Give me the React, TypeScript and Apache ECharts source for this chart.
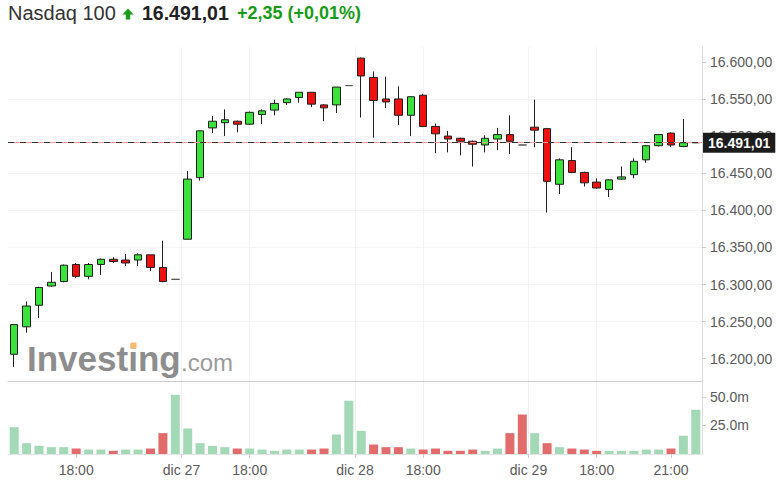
import React, { useEffect, useRef } from 'react';
import * as echarts from 'echarts';

// ---- data (30-minute candles, 26-29 dic) ----
const opens = [
  16206, 16243, 16272, 16298, 16304, 16327, 16311, 16327, 16334, 16333, 16333, 16340, 16323, 16307,
  16361, 16444, 16511, 16518, 16520, 16516, 16529, 16535, 16545, 16552, 16559, 16542, 16542, 16568,
  16605, 16579, 16550, 16550, 16528, 16555, 16513, 16500, 16497, 16493, 16488, 16496, 16502, 16488,
  16512, 16510, 16435, 16467, 16451, 16438, 16428, 16442, 16448, 16468, 16487, 16504, 16486, 16491,
];
const closes = [
  16246, 16271, 16296, 16303, 16326, 16311, 16327, 16334, 16331, 16329, 16340, 16323, 16304, 16307,
  16442, 16507, 16520, 16522, 16516, 16532, 16534, 16544, 16550, 16559, 16543, 16538, 16566, 16568,
  16581, 16548, 16546, 16528, 16553, 16513, 16503, 16496, 16493, 16489, 16497, 16502, 16493, 16488,
  16508, 16439, 16468, 16451, 16437, 16430, 16441, 16445, 16466, 16487, 16502, 16488, 16491, 16491,
];
const lows = [
  16189, 16235, 16255, 16297, 16303, 16309, 16307, 16313, 16329, 16325, 16325, 16318, 16303, 16307,
  16361, 16440, 16504, 16500, 16505, 16515, 16516, 16528, 16542, 16545, 16539, 16520, 16531, 16568,
  16525, 16498, 16538, 16515, 16500, 16512, 16477, 16478, 16474, 16459, 16478, 16481, 16476, 16488,
  16485, 16397, 16422, 16450, 16432, 16429, 16418, 16441, 16443, 16464, 16486, 16485, 16485, 16491,
];
const highs = [
  16246, 16277, 16297, 16317, 16327, 16329, 16329, 16335, 16337, 16341, 16342, 16340, 16359, 16307,
  16453, 16507, 16527, 16536, 16521, 16533, 16536, 16549, 16551, 16559, 16559, 16543, 16566, 16568,
  16606, 16587, 16580, 16567, 16554, 16557, 16517, 16507, 16498, 16494, 16501, 16511, 16528, 16488,
  16549, 16511, 16470, 16485, 16452, 16443, 16442, 16459, 16470, 16488, 16502, 16505, 16523, 16491,
];
// volume in millions
const volumes = [
  23.5, 9.5, 7.2, 6.0, 6.0, 4.8, 3.9, 3.9, 2.8, 3.9, 3.9, 4.8, 18.3, 51.9,
  22.4, 9.5, 7.2, 6.0, 4.8, 4.8, 3.9, 2.8, 3.9, 3.9, 3.9, 4.8, 17.1, 46.7,
  20.3, 8.3, 6.0, 6.0, 4.8, 3.9, 4.8, 2.8, 2.8, 3.9, 2.8, 4.8, 18.3, 34.6,
  18.3, 9.5, 6.0, 4.8, 3.9, 2.8, 2.8, 2.8, 2.8, 3.9, 3.9, 4.8, 16.0, 38.8,
];
// 1 = volume bar shown green (up), 0 = red (down)
const volumeUp = [
  1, 1, 1, 1, 1, 0, 1, 1, 0, 1, 1, 0, 0, 1,
  1, 1, 1, 1, 0, 1, 1, 1, 1, 1, 0, 0, 1, 1,
  1, 0, 0, 0, 1, 0, 0, 0, 0, 0, 1, 1, 0, 0,
  1, 0, 1, 0, 0, 0, 1, 1, 1, 1, 1, 0, 1, 1,
];
const lastPrice = 16491.01;
const priceTicks = [16200, 16250, 16300, 16350, 16400, 16450, 16500, 16550, 16600];
const volumeTicks = [25, 50];
const timeTickPos = [5, 13.5, 19, 27.5, 33, 41.5, 47, 53];
const timeTickLabels = ['18:00', 'dic 27', '18:00', 'dic 28', '18:00', 'dic 29', '18:00', '21:00'];
const titleName = 'Nasdaq 100';
const titlePrice = '16.491,01';
const titleChange = '+2,35 (+0,01%)';

const FONT = "'Liberation Sans', Arial, Helvetica, sans-serif";
const LABEL_COLOR = '#5a5a5a';
const GREEN_TXT = '#179c17';

function fmtPrice(v: number): string {
  const [i, d] = v.toFixed(2).split('.');
  return i.replace(/\B(?=(\d{3})+(?!\d))/g, '.') + ',' + d;
}

export default function App() {
  const ref = useRef<HTMLDivElement>(null);

  useEffect(() => {
    if (!ref.current) return;
    const chart = echarts.init(ref.current, undefined, { renderer: 'svg' });
    const cats = opens.map((_, i) => String(i));
    const n = opens.length;

    const option: any = {
      animation: false,
      backgroundColor: '#ffffff',
      textStyle: { fontFamily: FONT },
      grid: [
        { left: 8, right: 78, top: 47, height: 334 },
        { left: 8, right: 78, top: 381, height: 73 },
      ],
      xAxis: [
        {
          type: 'category', gridIndex: 0, data: cats, position: 'bottom',
          axisLine: { show: true, onZero: false, lineStyle: { color: '#cccccc', width: 1 } },
          axisTick: { show: false }, axisLabel: { show: false }, splitLine: { show: false },
        },
        {
          type: 'category', gridIndex: 1, data: cats, position: 'bottom',
          axisLine: { show: true, onZero: false, lineStyle: { color: '#e4e4e4', width: 1 } },
          axisTick: { show: false }, axisLabel: { show: false }, splitLine: { show: false },
        },
        {
          type: 'value', gridIndex: 1, min: -0.5, max: n - 0.5, position: 'bottom',
          axisLine: { show: false, onZero: false },
          axisTick: { show: true, length: 4, customValues: timeTickPos, lineStyle: { color: '#cccccc' } },
          axisLabel: {
            customValues: timeTickPos,
            formatter: (v: number) => {
              const k = timeTickPos.indexOf(v);
              return k >= 0 ? timeTickLabels[k] : '';
            },
            color: LABEL_COLOR, fontSize: 14, fontFamily: FONT, margin: 9,
          },
          splitLine: { show: true, showMinLine: false, showMaxLine: false, lineStyle: { color: '#f1f1f1' } },
        },
        {
          type: 'value', gridIndex: 0, min: -0.5, max: n - 0.5, position: 'bottom',
          axisLine: { show: false, onZero: false },
          axisTick: { show: false, customValues: timeTickPos },
          axisLabel: { show: false, customValues: timeTickPos },
          splitLine: { show: true, showMinLine: false, showMaxLine: false, lineStyle: { color: '#f3f3f3' } },
        },
      ],
      yAxis: [
        {
          type: 'value', gridIndex: 0, position: 'right', min: 16170, max: 16620,
          axisLine: { show: true, onZero: false, lineStyle: { color: '#dddddd' } },
          axisTick: { show: true, length: 4, customValues: priceTicks, lineStyle: { color: '#cccccc' } },
          axisLabel: {
            customValues: priceTicks, formatter: (v: number) => fmtPrice(v),
            color: LABEL_COLOR, fontSize: 14, fontFamily: FONT, margin: 8,
          },
          splitLine: { show: true, showMinLine: false, showMaxLine: false, lineStyle: { color: '#f4f4f4' } },
        },
        {
          type: 'value', gridIndex: 1, position: 'right', min: 0, max: 64,
          axisLine: { show: true, onZero: false, lineStyle: { color: '#dddddd' } },
          axisTick: { show: true, length: 4, customValues: volumeTicks, lineStyle: { color: '#cccccc' } },
          axisLabel: {
            customValues: volumeTicks, formatter: (v: number) => v.toFixed(1) + 'm',
            color: LABEL_COLOR, fontSize: 14, fontFamily: FONT, margin: 8,
          },
          splitLine: { show: false },
        },
      ],
      series: [
        {
          type: 'candlestick', xAxisIndex: 0, yAxisIndex: 0, z: 3,
          barWidth: 8,
          data: opens.map((o, i) => [o, closes[i], lows[i], highs[i]]),
          itemStyle: {
            color: '#3be23b', color0: '#ee1111',
            borderColor: '#1e1e1e', borderColor0: '#1e1e1e', borderColorDoji: '#555555',
            borderWidth: 1,
          },
          markLine: {
            silent: true, symbol: ['none', 'none'], animation: false,
            data: [
              { yAxis: lastPrice, lineStyle: { color: '#f29a9a', type: 'solid', width: 1 }, label: { show: false } },
              {
                yAxis: lastPrice, lineStyle: { color: '#333333', type: [6, 6], width: 1 },
                label: {
                  show: true, position: 'end', distance: 1,
                  formatter: () => fmtPrice(lastPrice),
                  color: '#ffffff', backgroundColor: '#1c1c1c', padding: [3, 5, 3, 5],
                  fontSize: 14, fontFamily: FONT, fontWeight: 'bold',
                },
              },
            ],
          },
        },
        {
          type: 'bar', xAxisIndex: 1, yAxisIndex: 1, barWidth: 9,
          data: volumes.map((v, i) => ({
            value: v,
            itemStyle: { color: volumeUp[i] ? '#a3d9b6' : '#e26c6c' },
          })),
        },
      ],
      graphic: [
        {
          type: 'text', x: 8, y: 13, z: 10,
          style: { text: titleName, fill: '#333333', fontSize: 20, fontFamily: FONT, align: 'left', verticalAlign: 'middle' },
        },
        {
          type: 'polygon', z: 10,
          shape: { points: [[128, 8.5], [133.5, 14.5], [130.2, 14.5], [130.2, 19.5], [125.8, 19.5], [125.8, 14.5], [122.5, 14.5]] },
          style: { fill: GREEN_TXT },
        },
        {
          type: 'text', x: 142, y: 13, z: 10,
          style: { text: titlePrice, fill: '#222222', fontSize: 19.5, fontWeight: 'bold', fontFamily: FONT, align: 'left', verticalAlign: 'middle' },
        },
        {
          type: 'text', x: 237, y: 13, z: 10,
          style: { text: titleChange, fill: GREEN_TXT, fontSize: 18, fontWeight: 'bold', fontFamily: FONT, align: 'left', verticalAlign: 'middle' },
        },
        {
          type: 'text', x: 27, y: 358, z: 1,
          style: { text: 'Investing', fill: '#8d8d8d', fontSize: 35, fontWeight: 'bold', fontFamily: FONT, align: 'left', verticalAlign: 'middle' },
        },
        {
          type: 'rect', z: 1,
          shape: { x: 130.5, y: 342.5, width: 6, height: 6 },
          style: { fill: '#f7bb70' },
        },
        {
          type: 'text', x: 181, y: 362, z: 1,
          style: { text: '.com', fill: '#9b9b9b', fontSize: 24, fontFamily: FONT, align: 'left', verticalAlign: 'middle' },
        },
      ],
    };

    chart.setOption(option);
    return () => chart.dispose();
  }, []);

  return (
    <div
      ref={ref}
      style={{ position: 'absolute', left: 0, top: 0, width: 780, height: 492, background: '#ffffff' }}
    />
  );
}
